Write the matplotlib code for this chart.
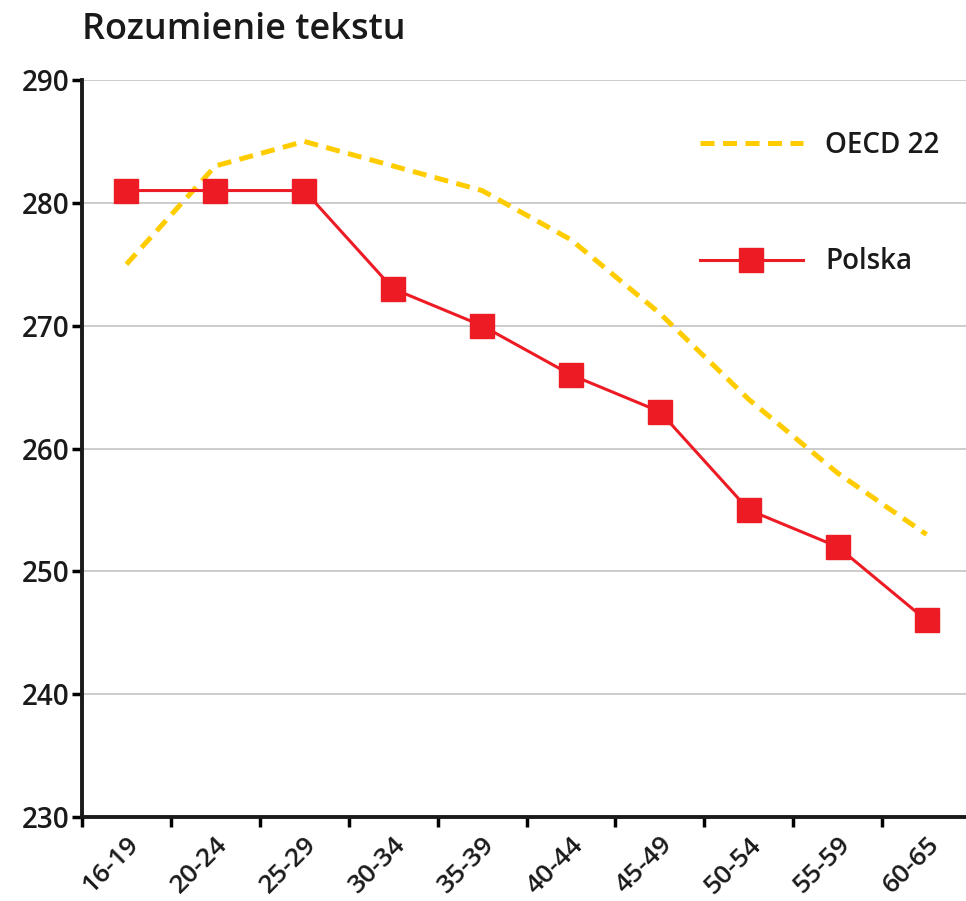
import numpy as np
import matplotlib
matplotlib.use('Agg')
import matplotlib.pyplot as plt

# dane
grupy = ['16-19', '20-24', '25-29', '30-34', '35-39',
         '40-44', '45-49', '50-54', '55-59', '60-65']
polska = [281, 281, 281, 273, 270, 266, 263, 255, 252, 246]
oecd = [275, 283, 285, 283, 281, 277, 271, 264, 258, 253]
y_ticks = [230, 240, 250, 260, 270, 280, 290]

plt.rcParams['font.family'] = ['Open Sans', 'DejaVu Sans']

fig = plt.figure(figsize=(9.66, 9.01), dpi=100)
ax = fig.add_axes([82/966, 1-817/901, 889/966, 737/901])

x = np.arange(len(grupy))
ax.plot(x, oecd, color='#FFCC00', lw=3.6, ls=(0, (2.8, 1.7)), label='OECD 22',
        zorder=2)
ax.plot(x, polska, color='#ED1C24', lw=2.2, marker='s', ms=17,
        label='Polska', zorder=3)

ax.set_xlim(-0.5, 9.5)
ax.set_ylim(230, 290)
ax.set_yticks(y_ticks)
ax.set_yticklabels([str(v) for v in y_ticks], fontsize=20, fontweight='semibold',
                   color='#1a1a1a')
ax.set_xticks(np.arange(-0.5, 9.5, 1))
ax.set_xticklabels([])
ax.set_xticks(x, minor=True)
ax.set_xticklabels(grupy, minor=True, rotation=45, ha='right',
                   rotation_mode='anchor', fontsize=19, fontweight='semibold',
                   color='#1a1a1a')
ax.tick_params(axis='x', which='minor', length=0, pad=11)
ax.tick_params(axis='x', which='major', direction='out', length=7, width=2.5)
ax.tick_params(axis='y', direction='out', length=7, width=2.5, pad=2)

ax.grid(axis='y', color='#c8c8c8', lw=1.3)
ax.set_axisbelow(True)
for s in ['top', 'right']:
    ax.spines[s].set_visible(False)
for s in ['left', 'bottom']:
    ax.spines[s].set_linewidth(2.8)
    ax.spines[s].set_color('#1a1a1a')

fig.text(82/966, 1-30/901, 'Rozumienie tekstu', fontsize=26,
         fontweight='semibold', color='#1a1a1a', va='center', ha='left')

leg = ax.legend(loc='upper left', bbox_to_anchor=(686/966, 1-117/901),
                bbox_transform=fig.transFigure, frameon=False,
                prop={'size': 20, 'weight': 'semibold'},
                handlelength=3.7, handletextpad=0.8, labelspacing=3.15,
                borderpad=0)
for t in leg.get_texts():
    t.set_color('#1a1a1a')

fig.savefig('out.png', dpi=100)
